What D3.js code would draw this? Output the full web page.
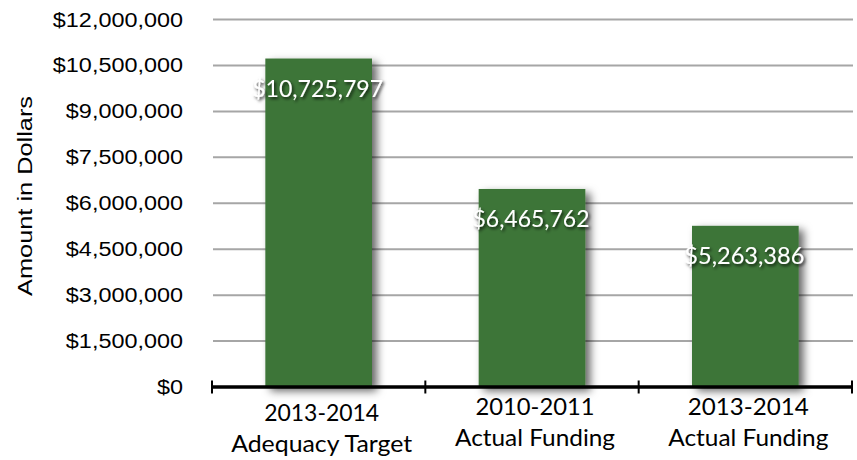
<!DOCTYPE html>
<html><head><meta charset="utf-8">
<script src="https://cdn.jsdelivr.net/npm/d3@7"></script>
<style>body{margin:0;background:#fff}svg{display:block}</style>
</head><body>
<script>
const categories = [["2013-2014","Adequacy Target"],["2010-2011","Actual Funding"],["2013-2014","Actual Funding"]];
const values = [10725797, 6465762, 5263386];
const yTicks = [0,1500000,3000000,4500000,6000000,7500000,9000000,10500000,12000000];
const yTitle = "Amount in Dollars";

const W=857,H=460;
const svg=d3.select("body").append("svg").attr("width",W).attr("height",H);
const defs=svg.append("defs");
const f=defs.append("filter").attr("id","bs").attr("x","-20%").attr("y","-20%").attr("width","150%").attr("height","150%");
f.append("feDropShadow").attr("dx",5).attr("dy",4).attr("stdDeviation",4).attr("flood-color","#000").attr("flood-opacity",0.6);
const tf=defs.append("filter").attr("id","ts").attr("x","-20%").attr("y","-40%").attr("width","140%").attr("height","180%");
tf.append("feDropShadow").attr("dx",1.5).attr("dy",2).attr("stdDeviation",1.5).attr("flood-color","#000").attr("flood-opacity",0.75);

const x=d3.scaleBand().domain(d3.range(categories.length)).range([212,852]).paddingInner(0.5).paddingOuter(0.25);
const y=d3.scaleLinear().domain([0,12000000]).range([387,19.5]);

const arial="'Liberation Sans', Arial, Helvetica, sans-serif";
const catFont="Lato, 'Open Sans', sans-serif";

// gridlines
svg.append("g").selectAll("line").data(yTicks.filter(d=>d>0)).join("line")
  .attr("x1",213).attr("x2",853).attr("y1",d=>y(d)).attr("y2",d=>y(d))
  .attr("stroke","#a6a6a6").attr("stroke-width",2);

// y tick labels
const fmt=d=>"$"+d3.format(",")(d);
const yl=svg.append("g").selectAll("text").data(yTicks).join("text")
  .attr("x",183).attr("y",d=>y(d)).attr("dy","0.35em").attr("text-anchor","end")
  .style("font-family",arial).attr("font-size",20)
  .attr("fill","#000").text(fmt);
yl.each(function(){const w=this.getComputedTextLength();d3.select(this).attr("textLength",w*1.17).attr("lengthAdjust","spacingAndGlyphs");});

// y title
svg.append("text").attr("transform","translate(25,196) rotate(-90)").attr("text-anchor","middle").attr("dy","0.35em")
  .style("font-family",arial).attr("font-size",20).attr("textLength",200).attr("lengthAdjust","spacingAndGlyphs").text(yTitle);

// bars
svg.append("g").selectAll("rect").data(values).join("rect")
  .attr("x",(d,i)=>x(i)).attr("width",x.bandwidth()).attr("y",d=>y(d)).attr("height",d=>y(0)-y(d))
  .attr("fill","#3d7538").attr("filter","url(#bs)");

// x axis
const xa=svg.append("g");
xa.append("line").attr("x1",212).attr("x2",852).attr("y1",387).attr("y2",387).attr("stroke","#000").attr("stroke-width",3.5);
const edges=[212].concat(d3.range(categories.length).map(i=>x(i)+x.step()*0.75));
xa.selectAll(".tk").data(edges).join("line").attr("class","tk")
  .attr("x1",d=>d).attr("x2",d=>d).attr("y1",380.5).attr("y2",393.5).attr("stroke","#000").attr("stroke-width",2);

// category labels
const yOff=[0,-6,-6];
const catW=[[115,181],[119,160],[121,160]];
categories.forEach((c,i)=>{
  const cx=x(i)+x.bandwidth()/2+3;
  c.forEach((t,j)=>{
    svg.append("text").attr("x",cx).attr("y",413+j*31+yOff[i]).attr("dy","0.35em").attr("text-anchor","middle")
      .style("font-family",catFont).attr("font-size",23).attr("fill","#000")
      .attr("textLength",catW[i][j]).attr("lengthAdjust","spacingAndGlyphs").text(t);
  });
});

// data labels
const labW=[131,117,120];
svg.append("g").selectAll("text").data(values).join("text")
  .attr("x",(d,i)=>x(i)+x.bandwidth()/2-1).attr("y",d=>y(d)+30).attr("dy","0.35em").attr("text-anchor","middle")
  .style("font-family",catFont).attr("font-size",24).attr("fill","#fff").attr("filter","url(#ts)")
  .attr("textLength",(d,i)=>labW[i]).attr("lengthAdjust","spacingAndGlyphs").text(fmt);
</script>
</body></html>
